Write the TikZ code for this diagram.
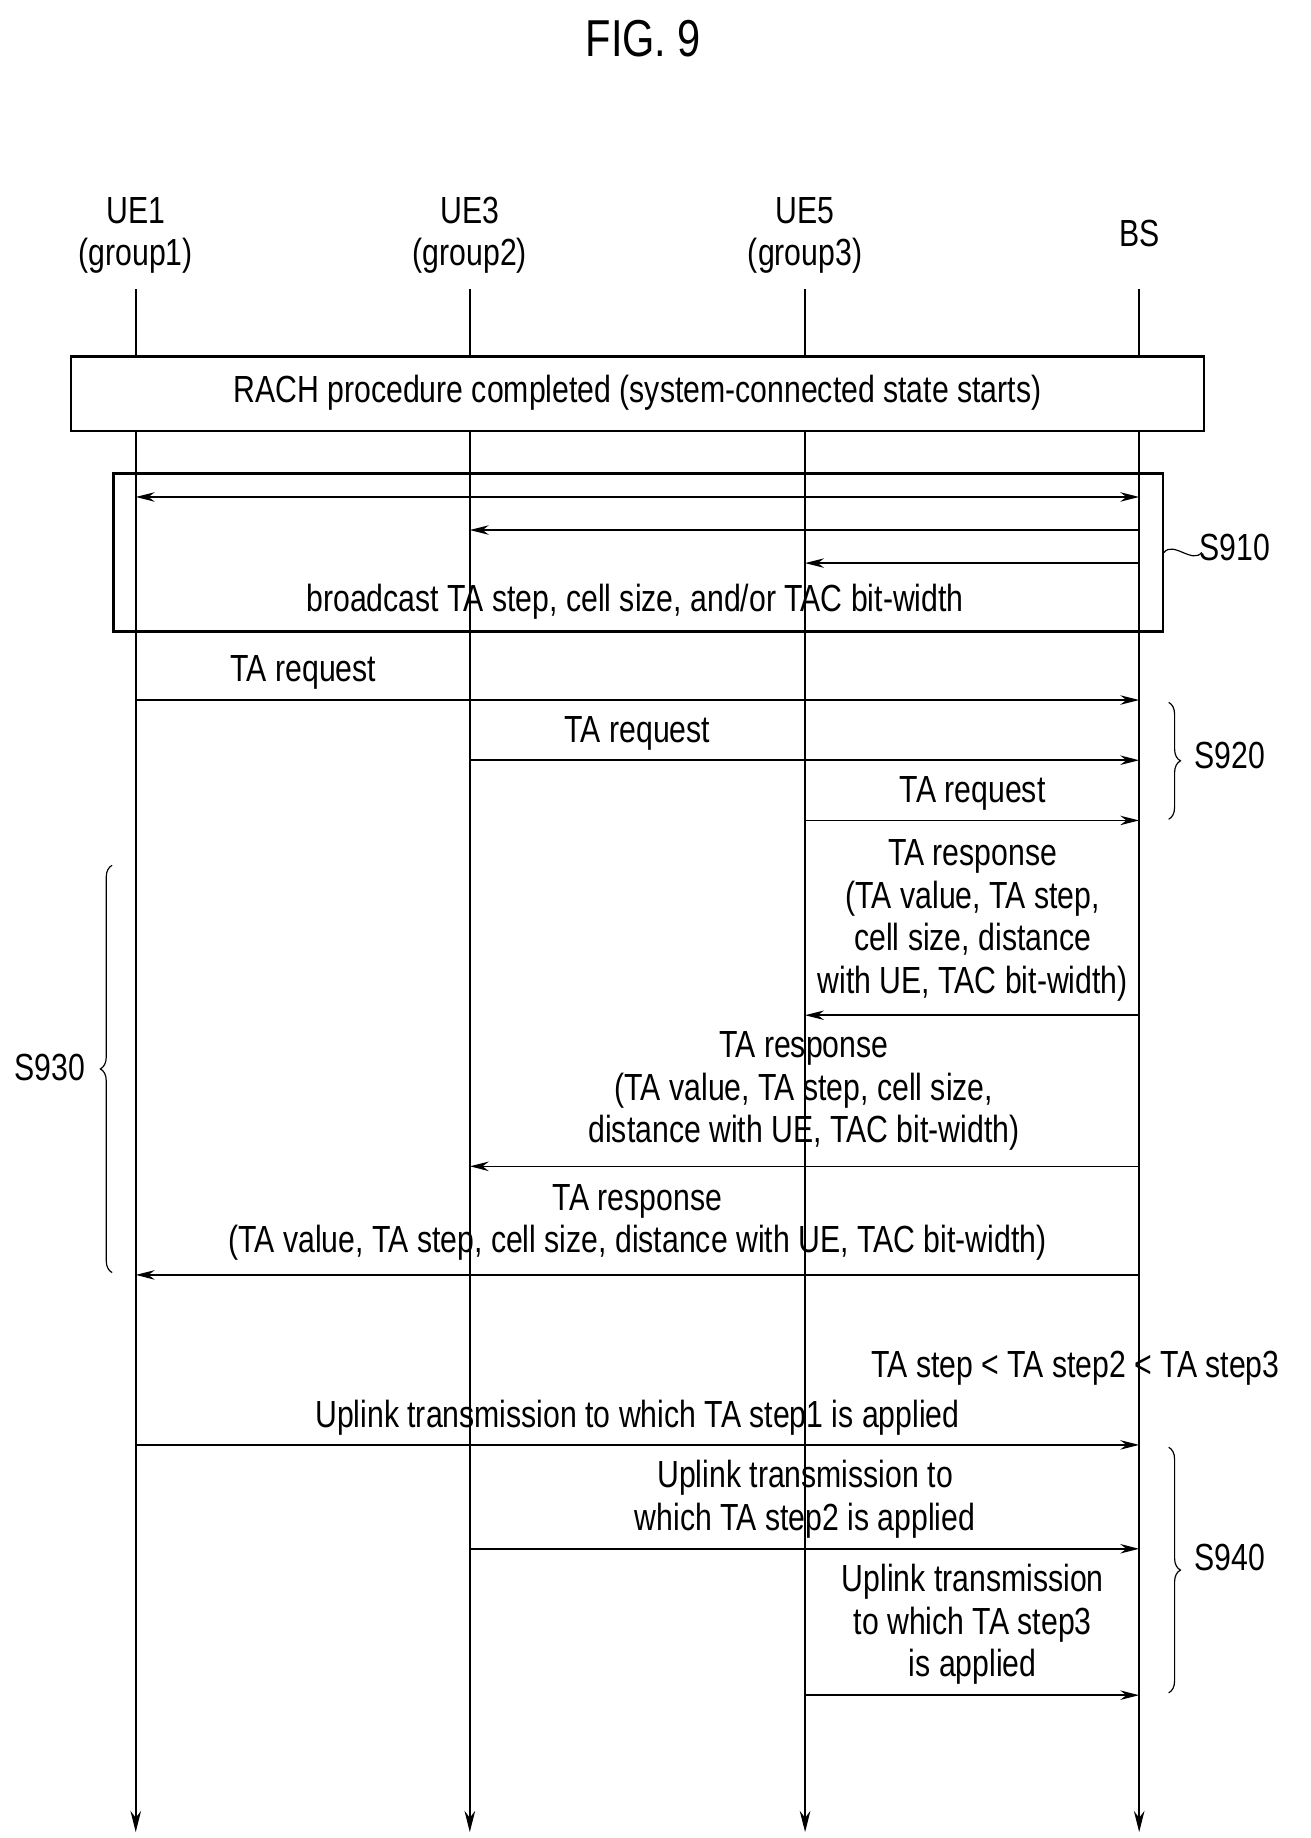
\documentclass[tikz,border=0pt]{standalone}
\usepackage{fontspec}
\setmainfont{Liberation Sans}
\usetikzlibrary{arrows.meta,decorations.pathreplacing}
\newcommand\Tx[1]{\scalebox{0.8}[1]{\begin{tabular}{@{}c@{}}#1\end{tabular}}}
\begin{document}
\begin{tikzpicture}[x=1pt,y=-1pt,
  txt/.style={inner sep=0pt,font=\fontsize{32}{36}\selectfont},
  msg/.style={line width=1.3pt,-{Stealth[length=16pt,width=8pt]}},
  life/.style={line width=1.3pt,-{Stealth[length=18pt,width=9pt]}},
  box/.style={draw,line width=2pt},
  br/.style={decorate,decoration={brace,amplitude=10pt},line width=1pt}]
\useasboundingbox (0,0) rectangle (1110,1557);
\node[txt] (fig) at (545,38) {\fontsize{44}{48}\selectfont\Tx{FIG. 9}};
\node[txt] (h1) at (115,200) {\Tx{UE1\\(group1)}};
\node[txt] (h3) at (398,200) {\Tx{UE3\\(group2)}};
\node[txt] (h5) at (682,200) {\Tx{UE5\\(group3)}};
\node[txt] (hb) at (965,202) {\Tx{BS}};
\foreach \n/\x in {a/115,b/398,c/682,d/965}{
  \coordinate (\n0) at (\x,245); \coordinate (\n9) at (\x,1552);
  \draw[life] (\n0) -- (\n9);
  \foreach \y in {421,449,477,593,644,695,860,988,1080,1224,1312,1436}{\coordinate (\n\y) at (\x,\y);}
}
\node[box,fill=white,minimum width=960,minimum height=63,inner sep=0pt] (rach) at (540,333.5) {};
\node[txt] (rt) at (540,334) {\Tx{RACH procedure completed (system-connected state starts)}};
\node[box,minimum width=889,minimum height=134,inner sep=0pt] (s910b) at (540.5,468) {};
\draw[line width=1.3pt,{Stealth[length=16pt,width=8pt]}-{Stealth[length=16pt,width=8pt]}] (a421) -- (d421);
\draw[msg] (d449) -- (b449);
\draw[msg] (d477) -- (c477);
\node[txt] (bt) at (538,511) {\Tx{broadcast TA step, cell size, and/or TAC bit-width}};
\node[txt] (s910) at (1046,468) {\Tx{S910}};
\draw[line width=1pt] (s910b.east |- 0,468) ++(0,0) coordinate (t0) .. controls +(8,-10) and +(-8,10) .. (1018,468);
\draw[msg] (a593) -- (d593); \node[txt] (r1) at (257,570) {\Tx{TA request}};
\draw[msg] (b644) -- (d644); \node[txt] (r2) at (540,622) {\Tx{TA request}};
\draw[msg] (c695) -- (d695); \node[txt] (r3) at (824,673) {\Tx{TA request}};
\coordinate (q1) at (990,595); \coordinate (q2) at (990,694);
\draw[br] (q1) -- (q2);
\node[txt] (s920) at (1042,644) {\Tx{S920}};
\draw[msg] (d860) -- (c860);
\node[txt] (p3) at (824,780) {\Tx{TA response\\(TA value, TA step,\\cell size, distance\\with UE, TAC bit-width)}};
\draw[msg] (d988) -- (b988);
\node[txt] (p2) at (681,925) {\Tx{TA response\\(TA value, TA step, cell size,\\distance with UE, TAC bit-width)}};
\draw[msg] (d1080) -- (a1080);
\node[txt] (p1) at (540,1036) {\Tx{TA response\\(TA value, TA step, cell size, distance with UE, TAC bit-width)}};
\coordinate (w1) at (95,1078); \coordinate (w2) at (95,733);
\draw[br] (w1) -- (w2);
\node[txt] (s930) at (42,908) {\Tx{S930}};
\node[txt] (cmp) at (911,1160) {\Tx{TA step < TA step2 < TA step3}};
\draw[msg] (a1224) -- (d1224); \node[txt] (u1) at (540,1202) {\Tx{Uplink transmission to which TA step1 is applied}};
\draw[msg] (b1312) -- (d1312); \node[txt] (u2) at (682,1271) {\Tx{Uplink transmission to\\which TA step2 is applied}};
\draw[msg] (c1436) -- (d1436); \node[txt] (u3) at (824,1377) {\Tx{Uplink transmission\\to which TA step3\\is applied}};
\coordinate (v1) at (990,1226); \coordinate (v2) at (990,1434);
\draw[br] (v1) -- (v2);
\node[txt] (s940) at (1042,1323) {\Tx{S940}};
\end{tikzpicture}
\end{document}
